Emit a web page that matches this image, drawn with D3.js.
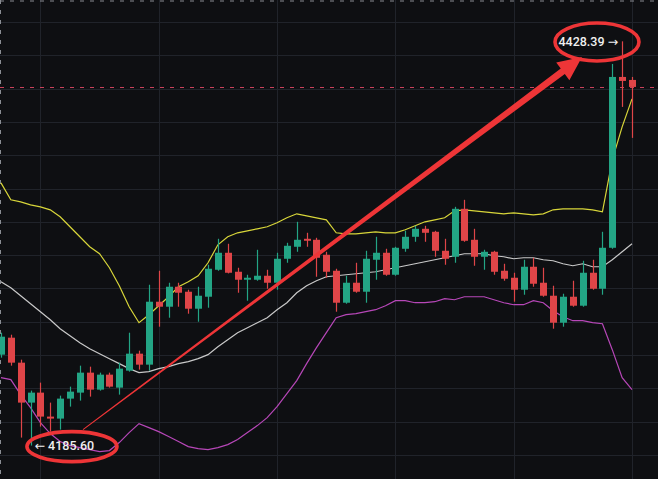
<!DOCTYPE html>
<html><head><meta charset="utf-8">
<script src="https://cdn.jsdelivr.net/npm/d3@7"></script>
<style>
html,body{margin:0;padding:0;background:#0e0f12;}
svg{display:block;}
</style></head>
<body>
<svg id="chart" width="658" height="479"></svg>
<script>
// ---- data (prices) ----
const opens  = [4240.2,4250.4,4235.4,4211.4,4217.4,4203.0,4201.8,4213.8,4217.4,4229.4,4219.2,4228.2,4220.4,4230.6,4240.8,4234.2,4272.0,4269.0,4281.0,4278.0,4267.8,4275.0,4291.2,4301.4,4290.0,4285.2,4285.2,4287.6,4283.4,4297.8,4305.0,4309.8,4309.2,4300.2,4290.6,4271.4,4283.4,4278.0,4297.2,4301.4,4288.2,4303.8,4311.0,4315.8,4314.0,4302.6,4299.0,4327.8,4309.2,4299.0,4302.0,4290.6,4286.4,4279.2,4293.0,4283.4,4275.6,4259.4,4275.0,4269.6,4289.4,4279.8,4304.4,4407.0,4405.2];
const highs  = [4253.4,4252.2,4237.2,4218.6,4223.4,4211.4,4215.6,4221.0,4233.6,4233.0,4229.4,4229.4,4235.4,4253.4,4242.6,4282.2,4290.6,4283.4,4283.4,4279.2,4281.0,4294.2,4309.8,4306.8,4292.4,4288.2,4303.2,4291.2,4301.4,4307.4,4320.0,4313.4,4310.4,4302.0,4291.8,4287.6,4295.4,4302.6,4311.0,4303.8,4305.0,4314.6,4317.6,4317.6,4314.6,4309.8,4329.0,4333.2,4315.8,4303.2,4302.6,4294.8,4289.4,4297.2,4298.4,4292.4,4281.6,4276.8,4284.6,4296.6,4297.2,4314.0,4414.8,4428.39,4407.0];
const lows   = [4238.4,4233.6,4190.4,4185.60,4197.0,4194.0,4195.2,4209.0,4212.6,4215.0,4218.6,4220.4,4216.2,4230.0,4231.2,4230.6,4257.0,4262.4,4269.0,4264.8,4260.0,4268.4,4290.6,4289.0,4277.4,4272.6,4284.6,4279.8,4279.2,4295.4,4302.0,4305.0,4287.0,4286.4,4266.0,4270.8,4277.4,4271.4,4285.2,4287.6,4287.6,4302.0,4308.0,4308.0,4299.0,4294.2,4295.4,4308.0,4293.6,4291.2,4288.2,4284.6,4272.0,4276.2,4281.0,4275.0,4255.8,4257.0,4269.0,4269.0,4279.2,4276.2,4303.8,4389.0,4370.4];
const closes = [4251.0,4235.4,4211.4,4217.4,4203.0,4201.8,4213.8,4218.0,4229.4,4219.2,4228.2,4221.0,4231.8,4240.8,4234.2,4272.0,4269.0,4281.0,4277.4,4267.8,4275.6,4291.8,4301.4,4289.4,4285.2,4286.4,4287.6,4283.4,4297.8,4305.6,4309.2,4308.6,4298.4,4290.0,4271.4,4283.4,4278.0,4297.8,4301.4,4288.2,4304.4,4311.0,4315.8,4313.4,4302.6,4297.8,4327.8,4308.6,4299.0,4302.0,4290.0,4285.8,4279.2,4293.0,4282.8,4275.6,4259.4,4275.0,4269.6,4289.4,4279.8,4304.4,4407.0,4404.6,4401.0];
const bandUpper = [4343.4,4333.2,4332.0,4330.2,4329.0,4327.2,4323.0,4317.0,4311.0,4305.0,4300.8,4292.4,4281.6,4269.0,4259.4,4264.2,4269.6,4275.0,4281.0,4284.0,4287.6,4295.4,4306.2,4311.0,4313.4,4314.6,4315.8,4317.0,4319.4,4322.4,4324.8,4323.6,4322.4,4321.2,4313.4,4312.8,4312.8,4313.4,4314.0,4313.4,4313.4,4315.2,4317.6,4320.0,4321.2,4322.4,4326.6,4327.2,4326.6,4326.0,4325.4,4324.8,4325.4,4324.8,4324.2,4324.8,4327.2,4327.8,4327.8,4327.8,4327.2,4326.0,4357.2,4377.0,4393.8];
const bandMiddle = [4284.0,4280.4,4275.6,4270.8,4266.0,4261.2,4255.8,4251.6,4247.4,4243.8,4240.8,4237.8,4234.8,4231.8,4229.4,4230.0,4231.8,4233.0,4234.8,4236.0,4237.8,4240.2,4245.0,4249.2,4253.4,4256.4,4259.4,4262.4,4267.2,4271.4,4277.4,4281.6,4284.6,4287.0,4287.6,4288.2,4288.8,4289.4,4290.0,4291.2,4292.4,4293.6,4294.8,4296.0,4297.2,4298.4,4299.6,4300.8,4300.8,4300.8,4299.6,4299.0,4297.8,4298.4,4298.4,4297.2,4296.6,4294.8,4293.6,4294.8,4293.0,4293.0,4297.2,4302.0,4306.8];
const bandLower = [4226.4,4225.2,4216.2,4208.4,4199.4,4192.8,4188.0,4185.6,4184.4,4183.2,4182.0,4182.6,4187.4,4193.4,4198.8,4196.4,4194.0,4191.0,4188.0,4185.0,4183.8,4183.2,4184.4,4186.2,4189.2,4193.4,4197.6,4202.4,4209.0,4216.8,4224.6,4234.8,4244.4,4253.4,4262.4,4264.2,4264.8,4266.0,4267.2,4269.6,4272.6,4272.6,4271.4,4271.4,4272.0,4273.8,4273.2,4275.0,4275.0,4275.0,4273.2,4271.4,4270.2,4270.2,4272.6,4271.4,4266.6,4263.0,4260.6,4260.6,4259.4,4258.8,4243.2,4226.4,4219.2];
const gridPrices = [4180,4200,4220,4240,4260,4280,4300,4320,4340,4360,4380,4400,4420,4440];
const gridIndices = [4,16,28,40,52,64];
const lowLabel = "\u2190 4185.60";
const highLabel = "4428.39 \u2192";
const lowIndex = 3, highIndex = 63;
// annotation (data coords)
const arrowFrom = {i: 8.32, p: 4195.2};
const arrowTo = {i: 58.93, p: 4419.0};
const ovals = [{i: 7.2, p: 4185.0, rx: 45, ry: 15}, {i: 60.45, p: 4428.0, rx: 42, ry: 19}];

// ---- drawing ----
const W = 658, H = 479;
const svg = d3.select("#chart");
const n = closes.length;
const x = d3.scaleLinear().domain([0, n - 1]).range([0.96, 632]);
const y = d3.scaleLinear().domain([4200, 4440]).range([421.6, 22]);

svg.append("rect").attr("width", W).attr("height", H).attr("fill", "#0e0f12");

// grid
const g = svg.append("g");
g.selectAll(".hg").data(gridPrices).join("line")
  .attr("x1", 0).attr("x2", W)
  .attr("y1", d => Math.round(y(d)) + 0.5).attr("y2", d => Math.round(y(d)) + 0.5)
  .attr("stroke", "#20232a").attr("stroke-width", 1);
g.selectAll(".vg").data(gridIndices).join("line")
  .attr("y1", 0).attr("y2", H)
  .attr("x1", d => Math.round(x(d)) + 0.5).attr("x2", d => Math.round(x(d)) + 0.5)
  .attr("stroke", "#20232a").attr("stroke-width", 1);

// screenshot border dashes
svg.append("line").attr("x1", 0).attr("x2", W).attr("y1", 1).attr("y2", 1)
  .attr("stroke", "#8a8d93").attr("stroke-width", 1).attr("stroke-dasharray", "4,6");
svg.append("line").attr("x1", 0.5).attr("x2", 0.5).attr("y1", 0).attr("y2", H)
  .attr("stroke", "#8a8d93").attr("stroke-width", 1).attr("stroke-dasharray", "4,6");

// last price dashed line
const last = closes[n - 1];
svg.append("line").attr("x1", 0).attr("x2", W)
  .attr("y1", Math.round(y(last)) + 0.5).attr("y2", Math.round(y(last)) + 0.5)
  .attr("stroke", "#c9415b").attr("stroke-width", 1).attr("stroke-dasharray", "4,6");

// bands
const idx = d3.range(n);
function band(arr, color) {
  const line = d3.line().x(i => x(i)).y(i => y(arr[i]));
  svg.append("path").attr("d", line(idx)).attr("fill", "none")
    .attr("stroke", color).attr("stroke-width", 1.2);
}
band(bandUpper, "#d8d63a");
band(bandMiddle, "#c9c9c9");
band(bandLower, "#b747b8");

// candles
const up = "#23a585", dn = "#df4548";
const cg = svg.append("g");
cg.selectAll(".wick").data(idx).join("line")
  .attr("x1", i => Math.round(x(i)) + 0.5).attr("x2", i => Math.round(x(i)) + 0.5)
  .attr("y1", i => y(highs[i])).attr("y2", i => y(lows[i]))
  .attr("stroke", i => closes[i] >= opens[i] ? up : dn).attr("stroke-width", 1.2);
cg.selectAll(".body").data(idx).join("rect")
  .attr("x", i => Math.round(x(i)) - 3)
  .attr("width", 7)
  .attr("y", i => y(Math.max(opens[i], closes[i])))
  .attr("height", i => Math.max(1.5, Math.abs(y(opens[i]) - y(closes[i]))))
  .attr("fill", i => closes[i] >= opens[i] ? up : dn);

// labels
svg.append("text").attr("x", x(lowIndex) + 4).attr("y", y(lows[lowIndex]) + 4.5)
  .attr("fill", "#f0f0f0").attr("font-family", "Roboto, 'DejaVu Sans', sans-serif")
  .attr("font-size", 12.5).attr("font-weight", 500).text(lowLabel);
svg.append("text").attr("x", x(highIndex) - 4).attr("y", y(highs[highIndex]) + 4.5)
  .attr("text-anchor", "end")
  .attr("fill", "#f0f0f0").attr("font-family", "Roboto, 'DejaVu Sans', sans-serif")
  .attr("font-size", 12.5).attr("font-weight", 500).text(highLabel);

// annotation: ovals
const red = "#ee3537";
svg.selectAll(".oval").data(ovals).join("ellipse")
  .attr("cx", d => x(d.i)).attr("cy", d => y(d.p))
  .attr("rx", d => d.rx).attr("ry", d => d.ry)
  .attr("fill", "none").attr("stroke", red).attr("stroke-width", 3.6);

// annotation: tapered arrow
(function () {
  const x0 = x(arrowFrom.i), y0 = y(arrowFrom.p);
  const x1 = x(arrowTo.i), y1 = y(arrowTo.p);
  const dx = x1 - x0, dy = y1 - y0, L = Math.hypot(dx, dy);
  const ux = dx / L, uy = dy / L, nx = -uy, ny = ux;
  const headLen = 24, headHalf = 11;
  const bx = x1 - ux * headLen, by = y1 - uy * headLen;
  const w0 = 0.5, w1 = 3.4;
  const pts = [
    [x0 + nx * w0, y0 + ny * w0],
    [bx + nx * w1, by + ny * w1],
    [bx + nx * headHalf, by + ny * headHalf],
    [x1, y1],
    [bx - nx * headHalf, by - ny * headHalf],
    [bx - nx * w1, by - ny * w1],
    [x0 - nx * w0, y0 - ny * w0]
  ];
  svg.append("path").attr("d", "M" + pts.map(p => p.join(",")).join("L") + "Z")
    .attr("fill", red);
})();
</script>
</body></html>
